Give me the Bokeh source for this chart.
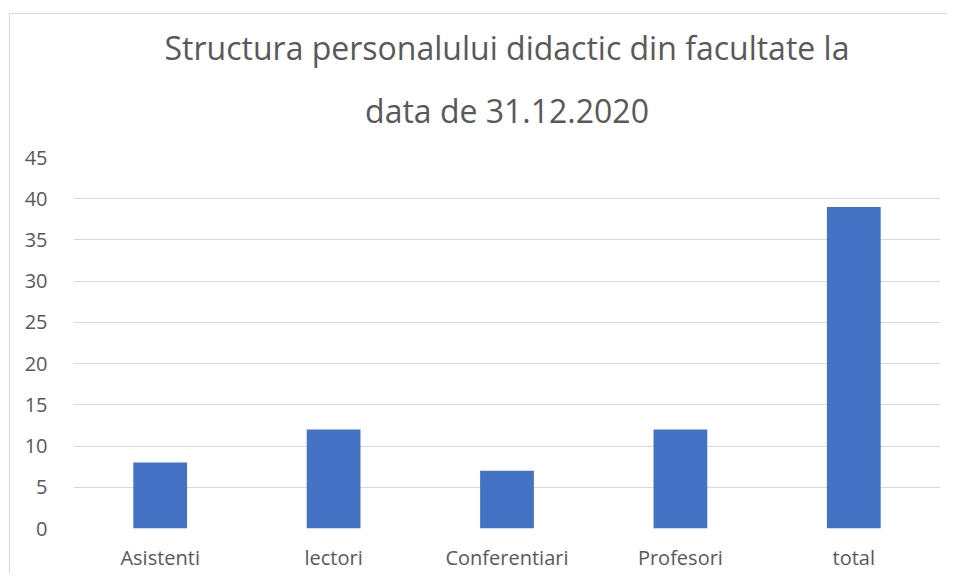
from bokeh.plotting import figure
from bokeh.embed import file_html
from bokeh.resources import INLINE
from bokeh.models import ColumnDataSource, FactorRange, Range1d, SingleIntervalTicker, Title

categories = ["Asistenti", "lectori", "Conferentiari", "Profesori", "total"]
values = [8, 12, 7, 12, 39]
title_lines = ["Structura personalului didactic din facultate la", "data de 31.12.2020"]

source = ColumnDataSource(data=dict(cat=categories, val=values))

FONT = "Open Sans"
GREY = "#595959"

p = figure(
    x_range=FactorRange(*categories, range_padding=0),
    y_range=Range1d(0, 45),
    width=938, height=560,
    output_backend="svg", toolbar_location=None,
    min_border_left=63, min_border_right=8, min_border_top=143, min_border_bottom=46,
)
p.styles = {"margin-top": "13px", "margin-left": "9px",
            "border-left": "1px solid #d9d9d9", "border-top": "1px solid #d9d9d9"}

p.vbar(x="cat", top="val", width=0.31, source=source, fill_color="#4472C4", line_color=None)

p.title = None
t2 = Title(text=title_lines[1], align="center", text_font=FONT, text_font_size="32px",
           text_font_style="normal", text_color=GREY, standoff=51)
t1 = Title(text=title_lines[0], align="center", text_font=FONT, text_font_size="32px",
           text_font_style="normal", text_color=GREY, standoff=-15)
p.add_layout(t2, "above")
p.add_layout(t1, "above")

p.outline_line_color = None
p.xgrid.grid_line_color = None
p.ygrid.grid_line_color = "#d9d9d9"
p.ygrid.grid_line_width = 1
p.yaxis.ticker = SingleIntervalTicker(interval=5)

for ax in (p.xaxis, p.yaxis):
    ax.axis_line_color = None
    ax.major_tick_line_color = None
    ax.minor_tick_line_color = None
    ax.major_label_text_font = FONT
    ax.major_label_text_font_size = "20px"
    ax.major_label_text_color = GREY
p.yaxis.major_label_standoff = 20
p.xaxis.major_label_standoff = 9

open("out.html", "w").write(file_html(p, INLINE))
